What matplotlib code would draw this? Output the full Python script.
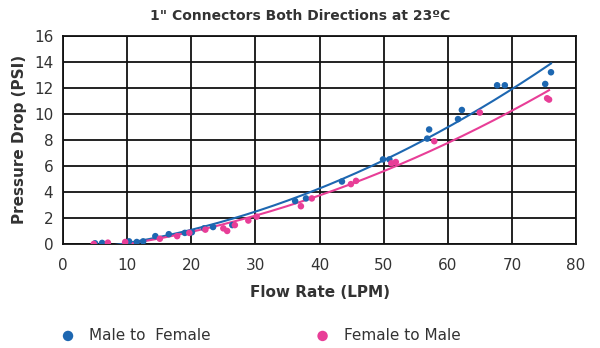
import numpy as np
import matplotlib
matplotlib.use("Agg")
import matplotlib.pyplot as plt

# flow rate (LPM) vs pressure drop (PSI), 1" connectors at 23 C
male_flow = [5.0, 6.1, 10.3, 11.5, 12.5, 14.4, 16.5, 19.0, 20.1, 22.0, 23.4, 26.4,
             36.2, 37.9, 43.5, 49.9, 50.9, 56.8, 57.1, 61.6, 62.2, 67.7, 68.9, 75.2, 76.1]
male_psi = [0.05, 0.08, 0.2, 0.15, 0.2, 0.6, 0.75, 0.85, 0.9, 1.2, 1.3, 1.45,
            3.3, 3.5, 4.8, 6.5, 6.5, 8.1, 8.8, 9.6, 10.3, 12.2, 12.2, 12.3, 13.2]

female_flow = [4.8, 7.0, 9.7, 15.1, 17.8, 19.7, 22.2, 25.0, 25.6, 26.8, 28.9, 30.2,
               37.1, 38.8, 44.9, 45.7, 51.2, 51.9, 57.9, 65.0, 75.5, 75.8]
female_psi = [0.0, 0.1, 0.15, 0.4, 0.6, 0.85, 1.1, 1.2, 1.0, 1.45, 1.8, 2.1,
              2.9, 3.5, 4.6, 4.85, 6.2, 6.3, 7.9, 10.1, 11.2, 11.1]

series = [
    ("Male to  Female", male_flow, male_psi, "#1d67b1"),
    ("Female to Male", female_flow, female_psi, "#e83e97"),
]

fig = plt.figure(figsize=(6.0, 3.48), dpi=100)
ax = fig.add_axes([0.105, 0.299, 0.855, 0.598])

handles = []
for label, x, y, color in series:
    x = np.array(x)
    y = np.array(y)
    # second-order trendline through each data set
    coef = np.polyfit(x, y, 2)
    xs = np.linspace(x.min(), x.max(), 200)
    ax.plot(xs, np.polyval(coef, xs), color=color, lw=1.5, zorder=3)
    h = ax.scatter(x, y, s=22, color=color, edgecolors="none", zorder=4, label=label)
    handles.append(h)

ax.set_xlim(0, 80)
ax.set_ylim(0, 16)
ax.set_xticks(range(0, 81, 10))
ax.set_yticks(range(0, 17, 2))
ax.grid(True, color="#111111", lw=1.3)
ax.set_axisbelow(True)
for s in ax.spines.values():
    s.set_color("#111111")
    s.set_linewidth(1.3)
ax.tick_params(length=0, labelsize=11, labelcolor="#333333")
ax.tick_params(axis="x", pad=10)
ax.tick_params(axis="y", pad=7)

fig.suptitle("1\" Connectors Both Directions at 23ºC", x=0.5, y=0.975,
             fontsize=10, fontweight="bold", color="#333333")
ax.set_xlabel("Flow Rate (LPM)", fontsize=11, fontweight="bold", color="#333333",
              labelpad=9)
ax.set_ylabel("Pressure Drop (PSI)", fontsize=11, fontweight="bold", color="#333333",
              labelpad=5)

fig.legend(handles=handles, loc="lower left", bbox_to_anchor=(0.065, -0.025),
           ncol=2, frameon=False, fontsize=11, handletextpad=0.4,
           columnspacing=6.3, scatterpoints=1, markerscale=1.6,
           labelcolor="#333333")

fig.savefig("out.png", dpi=100)
